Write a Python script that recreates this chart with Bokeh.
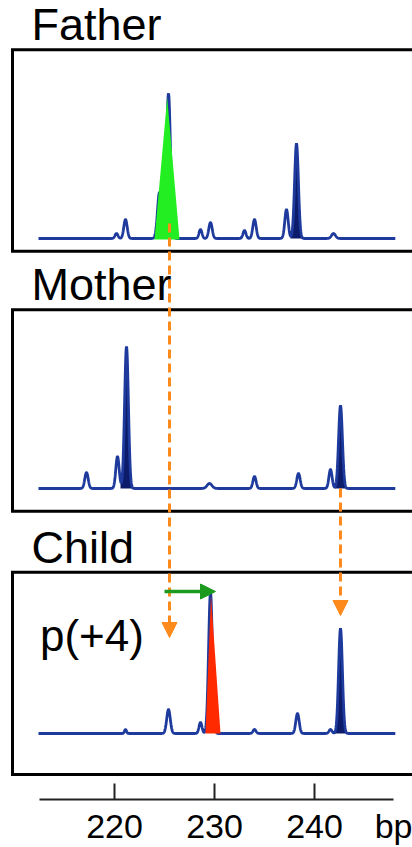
import numpy as np
from bokeh.plotting import figure
from bokeh.models import Range1d, LinearAxis, FixedTicker, Arrow, NormalHead
from bokeh.core.properties import value
from bokeh.embed import file_html
from bokeh.resources import INLINE

# ---- data -------------------------------------------------------------
# fragment-size axis (bp); the unit sits in the label row after the last tick
tick_bp = [220, 230, 240]
unit_bp = 248
unit_text = "bp"

# electropherogram peaks: position (bp), height (signal), width (sigma, bp), filled
father_pos = [220.2, 221.1, 224.5, 225.4, 228.6, 229.6, 233.0, 234.0, 237.2, 238.2, 241.9]
father_h   = [5, 19, 46, 145, 9, 16, 8, 19, 29, 95, 5]
father_sig = [0.15, 0.17, 0.2, 0.2, 0.15, 0.17, 0.15, 0.17, 0.17, 0.19, 0.2]
father_fill = [False, False, False, False, False, False, False, False, False, True, False]

mother_pos = [217.2, 220.3, 221.2, 229.5, 234.0, 238.4, 241.6, 242.6]
mother_h   = [16, 32, 142, 5, 12, 15, 19, 83]
mother_sig = [0.17, 0.17, 0.19, 0.25, 0.16, 0.17, 0.16, 0.19]
mother_fill = [False, False, True, False, False, False, False, True]

child_pos = [221.1, 225.4, 228.6, 229.6, 234.0, 238.3, 241.6, 242.6]
child_h   = [4, 24, 11, 141, 4, 20, 4, 105]
child_sig = [0.1, 0.18, 0.15, 0.19, 0.15, 0.17, 0.15, 0.19]
child_fill = [False, False, False, False, False, False, False, True]

# highlighted alleles (triangle: left base, apex, right base in bp; apex height)
father_allele_x = [224.0, 225.27, 226.5]
father_allele_top = 141
child_allele_x = [229.1, 229.65, 230.6]
child_allele_top = 138

# inheritance arrows (bp, signal in child panel units)
paternal_bp, paternal_from, paternal_to = 225.5, 510, 96
maternal_bp, maternal_from, maternal_to = 242.6, 245, 118
shift_from_bp, shift_to_bp, shift_level = 225.0, 230.1, 142
shift_text = "p(+4)"

titles = ["Father", "Mother", "Child"]

# ---- layout -----------------------------------------------------------
W, H = 412, 847
FRAME_H = 799
X_LO, X_HI = 208.6, 249.8
TRACE_LO, TRACE_HI = 212.4, 248.1
# screen row of each panel's baseline, box edges relative to baseline
baseline_row = {"Father": 238, "Mother": 488, "Child": 733}
box_edges = {"Father": (-12.7, 188.7), "Mother": (-22.7, 178.7), "Child": (-41.0, 161.3)}
BOX_LEFT = 209.8
BOX_RIGHT = 252.0
TITLE_RISE = 25

BLUE = "#1d3a9c"
NAVY = "#0c1c6a"
ORANGE = "#ff8a1c"
GREEN_ARROW = "#1c9a1e"
LIME = "#22ee22"
RED = "#ff2a00"
FONT = "Liberation Sans"

p = figure(width=W, height=H, x_range=Range1d(X_LO, X_HI), y_range=Range1d(0, FRAME_H),
           output_backend="svg", toolbar_location=None,
           x_axis_location=None, y_axis_location=None,
           min_border_left=0, min_border_right=0, min_border_top=0, min_border_bottom=H - FRAME_H)
p.outline_line_color = None
p.xgrid.visible = False
p.ygrid.visible = False
p.background_fill_color = "white"
p.border_fill_color = "white"

p.extra_y_ranges = {name: Range1d(-(FRAME_H - row), row) for name, row in baseline_row.items()}

grid = np.arange(TRACE_LO, TRACE_HI, 0.02)


def trace(pos, h, sig):
    y = np.zeros_like(grid)
    for m, a, s in zip(pos, h, sig):
        y += a * np.exp(-0.5 * ((grid - m) / s) ** 2)
    return y


samples = {
    "Father": (father_pos, father_h, father_sig, father_fill),
    "Mother": (mother_pos, mother_h, mother_sig, mother_fill),
    "Child": (child_pos, child_h, child_sig, child_fill),
}

for name in titles:
    pos, h, sig, fill = samples[name]
    y = trace(pos, h, sig)
    for m, s, f in zip(pos, sig, fill):
        if f:
            mask = np.abs(grid - m) < 3.2 * s
            p.varea(x=grid[mask], y1=0, y2=y[mask], fill_color=NAVY, y_range_name=name)
    p.line(grid, y, line_color=BLUE, line_width=2.8, y_range_name=name)

    lo, hi = box_edges[name]
    p.line([BOX_RIGHT, BOX_LEFT, BOX_LEFT, BOX_RIGHT], [hi, hi, lo, lo],
           line_color="black", line_width=3, line_join="miter", y_range_name=name)
    p.text(x=[211.7], y=[hi + TITLE_RISE], text=[name], text_font=value(FONT),
           text_font_size="45px", text_color="black", text_baseline="alphabetic",
           y_range_name=name)

# allele highlights
p.patch(father_allele_x, [-1, father_allele_top, -1], fill_color=LIME, line_color=None,
        y_range_name="Father")
p.patch(child_allele_x, [0, child_allele_top, 0], fill_color=RED, line_color=None,
        y_range_name="Child")

p.text(x=[212.55], y=[98], text=[shift_text], text_font=value(FONT), text_font_size="44px",
       text_color="black", text_baseline="alphabetic", y_range_name="Child")

# inheritance arrows
for bp, y0, y1 in [(paternal_bp, paternal_from, paternal_to), (maternal_bp, maternal_from, maternal_to)]:
    p.add_layout(Arrow(x_start=bp, y_start=y0, x_end=bp, y_end=y1, y_range_name="Child",
                       line_color=ORANGE, line_width=3, line_dash="9 5",
                       end=NormalHead(size=15, fill_color=ORANGE, line_color=ORANGE, line_width=1)))

p.add_layout(Arrow(x_start=shift_from_bp, y_start=shift_level, x_end=shift_to_bp, y_end=shift_level,
                   y_range_name="Child", line_color=GREEN_ARROW, line_width=3.5,
                   end=NormalHead(size=15, fill_color=GREEN_ARROW, line_color=GREEN_ARROW, line_width=1)))

# size axis: line and tick marks
ax = LinearAxis(ticker=FixedTicker(ticks=tick_bp), bounds=(212.5, 247.9))
ax.axis_line_width = 2
ax.axis_line_color = "#222222"
ax.major_tick_in = 16
ax.major_tick_out = 0
ax.major_tick_line_width = 2
ax.major_tick_line_color = "#222222"
ax.minor_tick_line_color = None
ax.major_label_standoff = 0
ax.major_label_text_font_size = "1px"
ax.major_label_text_color = None
p.add_layout(ax, "below")

# size axis: label row (tick values plus the unit)
lab = LinearAxis(ticker=FixedTicker(ticks=tick_bp + [unit_bp]),
                 major_label_overrides={unit_bp: unit_text})
lab.axis_line_color = None
lab.major_tick_line_color = None
lab.minor_tick_line_color = None
lab.major_tick_in = 0
lab.major_tick_out = 0
lab.major_label_standoff = 7
lab.major_label_text_font = FONT
lab.major_label_text_font_size = "34px"
lab.major_label_text_color = "black"
p.add_layout(lab, "below")

open("out.html", "w").write(file_html(p, INLINE))
